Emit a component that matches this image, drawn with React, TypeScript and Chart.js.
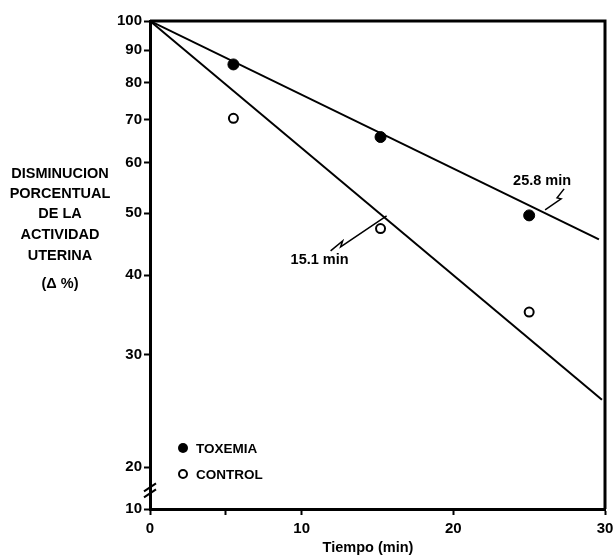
import { useEffect, useRef } from 'react';
import { Chart, registerables } from 'chart.js';

Chart.register(...registerables);

// ---- data ----
const toxemiaX = [5.5, 15.2, 25.0];
const toxemiaY = [85.5, 65.8, 49.6];
const controlX = [5.5, 15.2, 25.0];
const controlY = [70.4, 47.3, 35.0];
const toxemiaFitX = [0, 29.6];
const toxemiaFitY = [100, 45.5];
const controlFitX = [0, 29.8];
const controlFitY = [100, 25.5];
const yTickValues = [17.2, 20, 30, 40, 50, 60, 70, 80, 90, 100];
const yTickLabels = ['10', '20', '30', '40', '50', '60', '70', '80', '90', '100'];
const xTickValues = [0, 5, 10, 20, 30];
const xTickLabels = ['0', '', '10', '20', '30'];
const yTitleLines = ['DISMINUCION', 'PORCENTUAL', 'DE LA', 'ACTIVIDAD', 'UTERINA', '(Δ %)'];
const legendLabels = ['TOXEMIA', 'CONTROL'];
const halfLifeLabels = ['25.8 min', '15.1 min'];
const halfLifeAnchorX = [26.05, 15.6];
const halfLifeAnchorY = [50.6, 49.5];
const xTitle = 'Tiempo (min)';

const FONT = '"Liberation Sans", Arial, sans-serif';

const decor = {
  id: 'decor',
  afterDraw(chart: any) {
    const { ctx, chartArea: a, scales } = chart;
    const xs = scales.x;
    const ys = scales.y;
    ctx.save();
    ctx.strokeStyle = '#000';
    ctx.fillStyle = '#000';
    // top & right frame
    ctx.lineWidth = 3;
    ctx.beginPath();
    ctx.moveTo(a.left, a.top);
    ctx.lineTo(a.right, a.top);
    ctx.lineTo(a.right, a.bottom);
    ctx.stroke();
    // axis break
    const by = ys.getPixelForValue(18.4);
    ctx.lineWidth = 2;
    for (const d of [-3, 3]) {
      ctx.beginPath();
      ctx.moveTo(a.left - 6, by + d + 4);
      ctx.lineTo(a.left + 6, by + d - 4);
      ctx.stroke();
    }
    // y title
    ctx.font = `bold 14.5px ${FONT}`;
    ctx.textAlign = 'center';
    ctx.textBaseline = 'middle';
    const ty = [174, 194, 214, 235, 256, 284];
    yTitleLines.forEach((t, i) => ctx.fillText(t, 60, ty[i]));
    // x title
    ctx.font = `bold 14.5px ${FONT}`;
    ctx.fillText(xTitle, 368, 548);
    // legend
    ctx.textAlign = 'left';
    ctx.font = `bold 13.5px ${FONT}`;
    const lx = a.left + 33;
    const ly = [a.bottom - 61, a.bottom - 35];
    ctx.beginPath();
    ctx.arc(lx, ly[0], 5, 0, Math.PI * 2);
    ctx.fill();
    ctx.beginPath();
    ctx.lineWidth = 2;
    ctx.arc(lx, ly[1], 4, 0, Math.PI * 2);
    ctx.fillStyle = '#fff';
    ctx.fill();
    ctx.stroke();
    ctx.fillStyle = '#000';
    ctx.fillText(legendLabels[0], lx + 13, ly[0] + 1);
    ctx.fillText(legendLabels[1], lx + 13, ly[1] + 1);
    // half-life annotations
    ctx.textAlign = 'center';
    ctx.font = `bold 14.5px ${FONT}`;
    const tox = { x: xs.getPixelForValue(halfLifeAnchorX[0]), y: ys.getPixelForValue(halfLifeAnchorY[0]) };
    const con = { x: xs.getPixelForValue(halfLifeAnchorX[1]), y: ys.getPixelForValue(halfLifeAnchorY[1]) };
    ctx.fillText(halfLifeLabels[0], tox.x - 3, tox.y - 29);
    ctx.fillText(halfLifeLabels[1], con.x - 67, con.y + 44);
    ctx.lineWidth = 1.5;
    ctx.beginPath();
    ctx.moveTo(tox.x + 19, tox.y - 21);
    ctx.lineTo(tox.x + 12, tox.y - 12);
    ctx.lineTo(tox.x + 16, tox.y - 11);
    ctx.lineTo(tox.x, tox.y);
    ctx.stroke();
    ctx.beginPath();
    ctx.moveTo(con.x - 56, con.y + 35);
    ctx.lineTo(con.x - 44, con.y + 25);
    ctx.lineTo(con.x - 46, con.y + 31);
    ctx.lineTo(con.x, con.y);
    ctx.stroke();
    ctx.restore();
  },
};

export default function App() {
  const ref = useRef<HTMLCanvasElement>(null);
  useEffect(() => {
    const pts = (xs: number[], ys: number[]) => xs.map((x, i) => ({ x, y: ys[i] }));
    const chart = new Chart(ref.current!, {
      type: 'scatter',
      data: {
        datasets: [
          {
            label: legendLabels[0],
            data: pts(toxemiaX, toxemiaY),
            pointRadius: 5.5,
            pointBackgroundColor: '#000',
            pointBorderColor: '#000',
            pointBorderWidth: 1,
            showLine: false,
          },
          {
            label: legendLabels[1],
            data: pts(controlX, controlY),
            pointRadius: 4.5,
            pointBackgroundColor: '#fff',
            pointBorderColor: '#000',
            pointBorderWidth: 2,
            showLine: false,
          },
          {
            label: 'fit toxemia',
            data: pts(toxemiaFitX, toxemiaFitY),
            showLine: true,
            borderColor: '#000',
            borderWidth: 2,
            pointRadius: 0,
          },
          {
            label: 'fit control',
            data: pts(controlFitX, controlFitY),
            showLine: true,
            borderColor: '#000',
            borderWidth: 2,
            pointRadius: 0,
          },
        ],
      },
      options: {
        animation: false,
        responsive: false,
        layout: { padding: { top: 21, right: 8, left: 0, bottom: 0 } },
        plugins: { legend: { display: false }, tooltip: { enabled: false } },
        scales: {
          x: {
            type: 'linear',
            min: 0,
            max: 30,
            afterBuildTicks: (s: any) => {
              s.ticks = xTickValues.map((v) => ({ value: v }));
            },
            afterFit: (s: any) => {
              s.height = 47;
              s.paddingRight = 0;
              s.paddingLeft = 0;
            },
            ticks: {
              autoSkip: false,
              maxRotation: 0,
              color: '#000',
              padding: 5,
              font: { family: FONT, size: 15, weight: 'bold' },
              callback: (_v: any, i: number) => xTickLabels[i],
            },
            grid: { drawOnChartArea: false, drawTicks: true, tickLength: 6, tickColor: '#000', tickWidth: 2 },
            border: { display: true, color: '#000', width: 3 },
          },
          y: {
            type: 'logarithmic',
            min: 17.2,
            max: 100,
            afterBuildTicks: (s: any) => {
              s.ticks = yTickValues.map((v) => ({ value: v }));
            },
            afterFit: (s: any) => {
              s.width = 150;
              s.paddingTop = 0;
              s.paddingBottom = 0;
            },
            ticks: {
              autoSkip: false,
              color: '#000',
              padding: 2,
              font: { family: FONT, size: 15, weight: 'bold' },
              callback: (_v: any, i: number) => yTickLabels[i],
            },
            grid: { drawOnChartArea: false, drawTicks: true, tickLength: 6, tickColor: '#000', tickWidth: 2 },
            border: { display: true, color: '#000', width: 3 },
          },
        },
      },
      plugins: [decor],
    } as any);
    return () => chart.destroy();
  }, []);
  return (
    <div style={{ position: 'absolute', left: 0, top: 0, width: 613, height: 556, background: '#fff' }}>
      <canvas ref={ref} width={613} height={556} style={{ display: 'block' }} />
    </div>
  );
}
